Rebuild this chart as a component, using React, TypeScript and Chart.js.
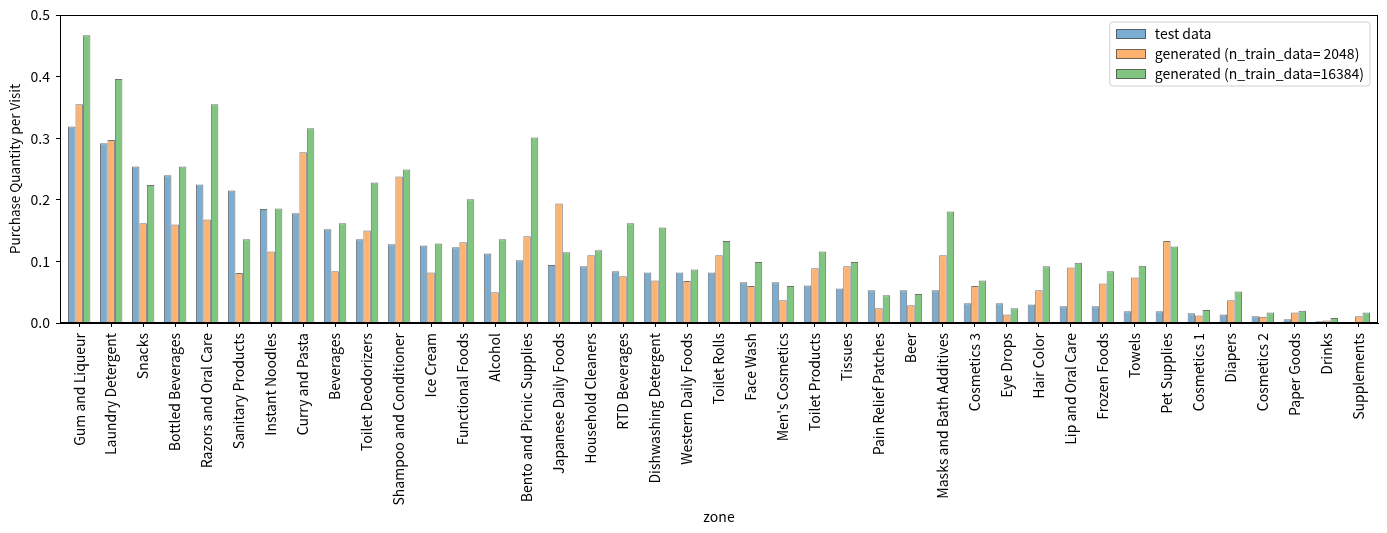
import React, { useEffect, useRef } from "react";
import { Chart, registerables } from "chart.js";

Chart.register(...registerables);

const categories = [
  "Gum and Liqueur", "Laundry Detergent", "Snacks", "Bottled Beverages", "Razors and Oral Care",
  "Sanitary Products", "Instant Noodles", "Curry and Pasta", "Beverages", "Toilet Deodorizers",
  "Shampoo and Conditioner", "Ice Cream", "Functional Foods", "Alcohol", "Bento and Picnic Supplies",
  "Japanese Daily Foods", "Household Cleaners", "RTD Beverages", "Dishwashing Detergent", "Western Daily Foods",
  "Toilet Rolls", "Face Wash", "Men's Cosmetics", "Toilet Products", "Tissues",
  "Pain Relief Patches", "Beer", "Masks and Bath Additives", "Cosmetics 3", "Eye Drops",
  "Hair Color", "Lip and Oral Care", "Frozen Foods", "Towels", "Pet Supplies",
  "Cosmetics 1", "Diapers", "Cosmetics 2", "Paper Goods", "Drinks", "Supplements",
];

const testData = [
  0.319, 0.292, 0.254, 0.240, 0.225, 0.215, 0.185, 0.178, 0.152, 0.136,
  0.128, 0.126, 0.123, 0.113, 0.102, 0.094, 0.092, 0.084, 0.082, 0.082,
  0.082, 0.066, 0.066, 0.061, 0.056, 0.053, 0.053, 0.053, 0.032, 0.032,
  0.030, 0.027, 0.027, 0.019, 0.019, 0.016, 0.014, 0.011, 0.006, 0.003, 0.001,
];

const generated2048 = [
  0.355, 0.297, 0.162, 0.160, 0.168, 0.081, 0.116, 0.277, 0.084, 0.150,
  0.238, 0.082, 0.131, 0.050, 0.141, 0.194, 0.110, 0.076, 0.069, 0.068,
  0.110, 0.060, 0.037, 0.089, 0.092, 0.024, 0.029, 0.110, 0.060, 0.014,
  0.053, 0.090, 0.064, 0.074, 0.133, 0.012, 0.037, 0.010, 0.017, 0.004, 0.011,
];

const generated16384 = [
  0.467, 0.396, 0.224, 0.254, 0.355, 0.136, 0.186, 0.316, 0.162, 0.228,
  0.249, 0.129, 0.201, 0.136, 0.301, 0.115, 0.118, 0.162, 0.155, 0.087,
  0.133, 0.099, 0.060, 0.116, 0.099, 0.045, 0.047, 0.181, 0.069, 0.024,
  0.092, 0.098, 0.084, 0.093, 0.124, 0.021, 0.051, 0.017, 0.020, 0.008, 0.017,
];

const seriesLabels = [
  "test data",
  "generated (n_train_data= 2048)",
  "generated (n_train_data=16384)",
];

const yTicks = [0, 0.1, 0.2, 0.3, 0.4, 0.5];

const FONT = "'Noto Sans CJK JP', 'DejaVu Sans', sans-serif";
const fills = ["rgb(121,173,210)", "rgb(255,178,110)", "rgb(128,198,128)"];
const edge = "rgba(0,0,0,0.55)";

const frameAndLegend = {
  id: "frameAndLegend",
  afterDatasetsDraw(chart: any) {
    const { ctx, chartArea } = chart;
    ctx.save();
    ctx.strokeStyle = "#000";
    ctx.lineWidth = 1;
    ctx.strokeRect(
      Math.round(chartArea.left) + 0.5,
      Math.round(chartArea.top) + 0.5,
      Math.round(chartArea.right - chartArea.left) - 1,
      Math.round(chartArea.bottom - chartArea.top) - 1
    );

    // legend
    ctx.font = `14px ${FONT}`;
    const ds = chart.data.datasets;
    let maxW = 0;
    ds.forEach((d: any) => {
      maxW = Math.max(maxW, ctx.measureText(d.label).width);
    });
    const pad = 6;
    const patchW = 29;
    const patchH = 9;
    const gap = 10;
    const rowH = 20;
    const boxW = pad + patchW + gap + maxW + pad;
    const boxH = ds.length * rowH + 4;
    const x0 = chartArea.right - 8 - boxW;
    const y0 = chartArea.top + 7;
    ctx.beginPath();
    const r = 3;
    ctx.moveTo(x0 + r, y0);
    ctx.arcTo(x0 + boxW, y0, x0 + boxW, y0 + boxH, r);
    ctx.arcTo(x0 + boxW, y0 + boxH, x0, y0 + boxH, r);
    ctx.arcTo(x0, y0 + boxH, x0, y0, r);
    ctx.arcTo(x0, y0, x0 + boxW, y0, r);
    ctx.closePath();
    ctx.fillStyle = "rgba(255,255,255,0.8)";
    ctx.fill();
    ctx.strokeStyle = "rgba(204,204,204,0.9)";
    ctx.lineWidth = 1;
    ctx.stroke();
    ds.forEach((d: any, i: number) => {
      const cy = y0 + 11 + i * rowH;
      const px = Math.round(x0 + pad) + 0.5;
      const py = Math.round(cy - patchH / 2) + 0.5;
      ctx.fillStyle = d.backgroundColor;
      ctx.fillRect(px, py, patchW, patchH);
      ctx.strokeStyle = edge;
      ctx.strokeRect(px, py, patchW, patchH);
      ctx.fillStyle = "#000";
      ctx.textBaseline = "middle";
      ctx.textAlign = "left";
      ctx.fillText(d.label, x0 + pad + patchW + gap, cy + 1);
    });
    ctx.restore();
  },
};

export default function App() {
  const ref = useRef<HTMLCanvasElement | null>(null);

  useEffect(() => {
    if (!ref.current) return;
    const seriesValues = [testData, generated2048, generated16384];
    const chart = new Chart(ref.current, {
      type: "bar",
      data: {
        datasets: seriesValues.map((vals, k) => ({
          label: seriesLabels[k],
          data: vals.map((v, i) => ({ x: i, y: v })),
          backgroundColor: fills[k],
          borderColor: edge,
          borderWidth: 1,
          categoryPercentage: 0.7,
          barPercentage: 1.0,
        })),
      },
      options: {
        animation: false,
        responsive: true,
        maintainAspectRatio: false,
        devicePixelRatio: 1,
        layout: { padding: { top: 15, right: 9, left: 0, bottom: 0 } },
        plugins: {
          legend: { display: false },
          tooltip: { enabled: false },
        },
        scales: {
          x: {
            type: "linear",
            min: -0.6,
            max: categories.length - 1 + 0.6,
            offset: false,
            afterBuildTicks: (axis: any) => {
              axis.ticks = categories.map((_, i) => ({ value: i }));
            },
            afterFit: (axis: any) => {
              axis.height = 210;
            },
            grid: {
              offset: false,
              drawOnChartArea: false,
              drawTicks: true,
              tickLength: 4,
              color: "#000",
            },
            border: { display: true, color: "#000", width: 1 },
            ticks: {
              autoSkip: false,
              maxRotation: 90,
              minRotation: 90,
              padding: 6,
              color: "#000",
              font: { family: FONT, size: 14 },
              callback: (v: any) => categories[Math.round(Number(v))] ?? "",
            },
            title: {
              display: true,
              text: "zone",
              color: "#000",
              font: { family: FONT, size: 14 },
              padding: { top: 0, bottom: 8 },
            },
          },
          y: {
            type: "linear",
            min: 0,
            max: 0.5,
            afterBuildTicks: (axis: any) => {
              axis.ticks = yTicks.map((v) => ({ value: v }));
            },
            afterFit: (axis: any) => {
              axis.width = 60;
            },
            grid: {
              drawOnChartArea: false,
              drawTicks: true,
              tickLength: 4,
              color: "#000",
            },
            border: { display: true, color: "#000", width: 1 },
            ticks: {
              padding: 6,
              color: "#000",
              font: { family: FONT, size: 14 },
              callback: (v: any) => Number(v).toFixed(1),
            },
            title: {
              display: true,
              text: "Purchase Quantity per Visit",
              color: "#000",
              font: { family: FONT, size: 13.5 },
              padding: { top: 7, bottom: 0 },
            },
          },
        },
      },
      plugins: [frameAndLegend],
    } as any);
    return () => chart.destroy();
  }, []);

  return (
    <div style={{ position: "absolute", left: 0, top: 0, width: 1387, height: 533 }}>
      <canvas ref={ref} />
    </div>
  );
}
